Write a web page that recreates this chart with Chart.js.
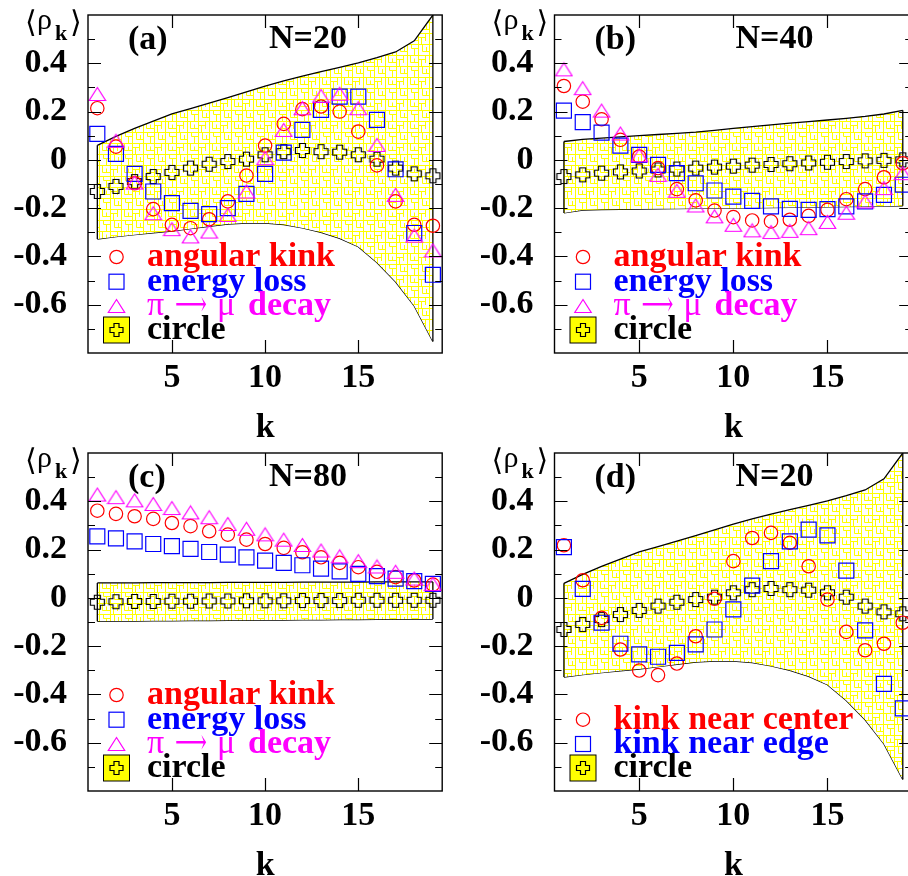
<!DOCTYPE html>
<html>
<head>
<meta charset="utf-8">
<script src="https://cdn.jsdelivr.net/npm/chart.js@4.4.1/dist/chart.umd.min.js"></script>
<style>
  html, body { margin: 0; padding: 0; overflow: hidden; background: #fff; }
  canvas { position: absolute; }
</style>
</head>
<body>
<canvas id="panelA" width="454" height="438" style="left:0;top:0"></canvas>
<canvas id="panelB" width="470" height="438" style="left:454px;top:0"></canvas>
<canvas id="panelC" width="454" height="438" style="left:0;top:438px"></canvas>
<canvas id="panelD" width="470" height="438" style="left:454px;top:438px"></canvas>
<script>
const kValues = [1, 2, 3, 4, 5, 6, 7, 8, 9, 10, 11, 12, 13, 14, 15, 16, 17, 18, 19];
const xTicks = [5, 10, 15];
const yTicks = [0.4, 0.2, 0, -0.2, -0.4, -0.6];
const yTickLabels = ['0.4', '0.2', '0', '-0.2', '-0.4', '-0.6'];
const yTickMarks = [0.5, 0.4, 0.3, 0.2, 0.1, 0, -0.1, -0.2, -0.3, -0.4, -0.5, -0.6, -0.7];

// N = 20
const angularKinkN20 = [0.214, 0.055, -0.097, -0.204, -0.269, -0.283, -0.246, -0.172, -0.065, 0.059, 0.149, 0.21, 0.221, 0.2, 0.117, -0.023, -0.172, -0.269, -0.273];
const energyLossN20 = [0.108, 0.025, -0.058, -0.131, -0.179, -0.211, -0.225, -0.2, -0.141, -0.058, 0.03, 0.124, 0.207, 0.262, 0.262, 0.166, -0.039, -0.303, -0.476];
const piMuDecayN20 = [0.273, 0.079, -0.094, -0.221, -0.287, -0.317, -0.297, -0.228, -0.131, 0.007, 0.124, 0.214, 0.265, 0.274, 0.214, 0.062, -0.145, -0.314, -0.375];
const circleN20 = [-0.131, -0.11, -0.09, -0.069, -0.052, -0.034, -0.018, -0.007, 0.003, 0.021, 0.034, 0.039, 0.034, 0.032, 0.021, 0.003, -0.034, -0.058, -0.066];
const bandUpperN20 = [0.06, 0.097, 0.13, 0.16, 0.19, 0.212, 0.235, 0.258, 0.282, 0.305, 0.327, 0.347, 0.365, 0.383, 0.402, 0.423, 0.447, 0.493, 0.6];
const bandLowerN20 = [-0.328, -0.318, -0.31, -0.302, -0.295, -0.285, -0.275, -0.266, -0.262, -0.262, -0.268, -0.282, -0.3, -0.325, -0.36, -0.425, -0.505, -0.605, -0.752];
const kinkCenterN20 = [0.218, 0.073, -0.083, -0.214, -0.301, -0.32, -0.272, -0.159, -0.004, 0.152, 0.248, 0.269, 0.228, 0.131, -0.007, -0.141, -0.217, -0.19, -0.103];
const kinkEdgeN20 = [0.21, 0.037, -0.103, -0.19, -0.234, -0.244, -0.228, -0.193, -0.131, -0.048, 0.051, 0.152, 0.234, 0.283, 0.259, 0.113, -0.135, -0.356, -0.458];

// N = 40
const angularKinkN40 = [0.306, 0.241, 0.168, 0.083, 0.014, -0.034, -0.121, -0.168, -0.21, -0.237, -0.251, -0.255, -0.248, -0.232, -0.207, -0.163, -0.121, -0.072, -0.014];
const energyLossN40 = [0.204, 0.156, 0.113, 0.059, 0.021, -0.021, -0.055, -0.097, -0.127, -0.152, -0.17, -0.193, -0.203, -0.207, -0.204, -0.193, -0.172, -0.145, -0.103];
const piMuDecayN40 = [0.375, 0.297, 0.204, 0.109, 0.019, -0.062, -0.128, -0.189, -0.234, -0.269, -0.292, -0.299, -0.294, -0.283, -0.257, -0.219, -0.172, -0.117, -0.055];
const circleN40 = [-0.069, -0.062, -0.055, -0.05, -0.046, -0.042, -0.038, -0.034, -0.03, -0.026, -0.022, -0.019, -0.016, -0.013, -0.01, -0.007, -0.004, -0.002, 0.0];
const bandUpperN40 = [0.076, 0.085, 0.09, 0.095, 0.1, 0.105, 0.11, 0.115, 0.122, 0.13, 0.138, 0.145, 0.152, 0.158, 0.165, 0.172, 0.18, 0.19, 0.205];
const bandLowerN40 = [-0.22, -0.208, -0.206, -0.205, -0.204, -0.203, -0.202, -0.201, -0.2, -0.2, -0.199, -0.198, -0.197, -0.196, -0.195, -0.194, -0.193, -0.192, -0.19];

// N = 80
const angularKinkN80 = [0.361, 0.348, 0.338, 0.327, 0.31, 0.297, 0.276, 0.262, 0.241, 0.223, 0.207, 0.189, 0.168, 0.145, 0.127, 0.108, 0.086, 0.072, 0.055];
const energyLossN80 = [0.255, 0.246, 0.234, 0.223, 0.214, 0.203, 0.19, 0.179, 0.168, 0.154, 0.145, 0.135, 0.121, 0.11, 0.099, 0.09, 0.08, 0.069, 0.058];
const piMuDecayN80 = [0.428, 0.417, 0.404, 0.389, 0.372, 0.354, 0.334, 0.306, 0.286, 0.263, 0.241, 0.219, 0.196, 0.172, 0.152, 0.13, 0.108, 0.08, 0.057];
const circleN80 = [-0.018, -0.016, -0.015, -0.015, -0.014, -0.014, -0.013, -0.013, -0.012, -0.012, -0.012, -0.011, -0.011, -0.011, -0.01, -0.01, -0.01, -0.01, -0.01];
const bandUpperN80 = [0.062, 0.062, 0.062, 0.063, 0.063, 0.063, 0.063, 0.064, 0.064, 0.064, 0.064, 0.065, 0.065, 0.065, 0.065, 0.066, 0.066, 0.066, 0.066];
const bandLowerN80 = [-0.097, -0.096, -0.096, -0.095, -0.095, -0.094, -0.094, -0.093, -0.093, -0.092, -0.092, -0.091, -0.091, -0.09, -0.09, -0.089, -0.089, -0.088, -0.088];

const FONT = "'Liberation Serif', 'DejaVu Serif', 'Times New Roman', serif";
const RED = '#ff0000', BLUE = '#0000ff', MAGENTA = '#ff00ff';
const PLOT_TOP = 15, PLOT_BOTTOM = 353;
const legendRows = [242, 266.7, 291, 315];

function xy(values) {
  return values.map((v, i) => ({ x: kValues[i], y: v }));
}

// small hollow plus used for the circle reference
function plusPath(g, cx, cy, half, arm) {
  g.beginPath();
  g.moveTo(cx - arm, cy - half); g.lineTo(cx + arm, cy - half);
  g.lineTo(cx + arm, cy - arm); g.lineTo(cx + half, cy - arm);
  g.lineTo(cx + half, cy + arm); g.lineTo(cx + arm, cy + arm);
  g.lineTo(cx + arm, cy + half); g.lineTo(cx - arm, cy + half);
  g.lineTo(cx - arm, cy + arm); g.lineTo(cx - half, cy + arm);
  g.lineTo(cx - half, cy - arm); g.lineTo(cx - arm, cy - arm);
  g.closePath();
}

function plusMarker() {
  const c = document.createElement('canvas');
  c.width = 17; c.height = 17;
  const g = c.getContext('2d');
  plusPath(g, 8.5, 8.5, 7, 3);
  g.strokeStyle = '#000';
  g.lineWidth = 1.2;
  g.stroke();
  return c;
}

function triangleMarker(color) {
  const c = document.createElement('canvas');
  c.width = 19; c.height = 16;
  const g = c.getContext('2d');
  g.beginPath();
  g.moveTo(9.5, 1.5); g.lineTo(17.7, 14.5); g.lineTo(1.3, 14.5);
  g.closePath();
  g.strokeStyle = color;
  g.lineWidth = 1.2;
  g.stroke();
  return c;
}

// yellow maze-like hatch for the band
function hatchTile() {
  const t = document.createElement('canvas');
  t.width = 22; t.height = 22;
  const g = t.getContext('2d');
  g.fillStyle = '#fff';
  g.fillRect(0, 0, 22, 22);
  g.strokeStyle = '#ffff00';
  g.lineWidth = 1;
  const segs = [
    [0, 0.5, 22, 0.5], [0.5, 0, 0.5, 22],
    [0, 11.5, 22, 11.5], [11.5, 0, 11.5, 22],
    [4.5, 0, 4.5, 7.5], [4.5, 7.5, 11, 7.5], [8.5, 3, 8.5, 7.5],
    [15.5, 0, 15.5, 4.5], [15.5, 4.5, 22, 4.5], [18.5, 4.5, 18.5, 11],
    [0, 15.5, 7, 15.5], [3.5, 15.5, 3.5, 22], [7.5, 12, 7.5, 19],
    [14.5, 11, 14.5, 18.5], [14.5, 18.5, 22, 18.5], [18.5, 14.5, 18.5, 18.5]
  ];
  g.beginPath();
  segs.forEach(([x1, y1, x2, y2]) => { g.moveTo(x1, y1); g.lineTo(x2, y2); });
  g.stroke();
  return t;
}

function drawLegendMarker(ctx, kind, x, y, color) {
  ctx.save();
  ctx.strokeStyle = color;
  ctx.lineWidth = 1.2;
  if (kind === 'circle') {
    ctx.beginPath(); ctx.arc(x, y, 6.7, 0, Math.PI * 2); ctx.stroke();
  } else if (kind === 'square') {
    ctx.strokeRect(x - 7.5, y - 7.5, 15, 15);
  } else if (kind === 'triangle') {
    ctx.beginPath();
    ctx.moveTo(x, y - 6.5); ctx.lineTo(x + 8.2, y + 6.5); ctx.lineTo(x - 8.2, y + 6.5);
    ctx.closePath(); ctx.stroke();
  } else if (kind === 'box') {
    ctx.fillStyle = '#ffff00';
    ctx.fillRect(x - 13, y - 13, 26, 26);
    ctx.strokeStyle = '#000';
    ctx.lineWidth = 1;
    ctx.strokeRect(x - 13, y - 13, 26, 26);
    plusPath(ctx, x, y, 6.5, 2.5);
    ctx.lineWidth = 1.2;
    ctx.stroke();
  }
  ctx.restore();
}

// text piece squeezed or stretched to a given width when one is set
function fillPiece(ctx, text, x, y, width) {
  if (!width) { ctx.fillText(text, x, y); return; }
  const w = ctx.measureText(text).width;
  ctx.save();
  ctx.translate(x, y);
  ctx.scale(width / w, 1);
  ctx.fillText(text, 0, 0);
  ctx.restore();
}

const panelDecor = {
  id: 'panelDecor',
  afterDatasetsDraw(chart, args, o) {
    const { ctx, chartArea: a, scales: { x, y } } = chart;
    ctx.save();
    ctx.strokeStyle = '#000';
    ctx.lineWidth = 1.4;
    ctx.strokeRect(a.left, a.top, a.right - a.left, a.bottom - a.top);

    // inward tick marks on all four sides
    ctx.lineWidth = 1.2;
    ctx.beginPath();
    yTickMarks.forEach(v => {
      const py = Math.round(y.getPixelForValue(v)) + 0.5;
      const len = yTicks.includes(v) ? 13 : 7;
      ctx.moveTo(a.left, py); ctx.lineTo(a.left + len, py);
      ctx.moveTo(a.right, py); ctx.lineTo(a.right - len, py);
    });
    xTicks.forEach(v => {
      const px = Math.round(x.getPixelForValue(v)) + 0.5;
      ctx.moveTo(px, a.top); ctx.lineTo(px, a.top + 13);
      ctx.moveTo(px, a.bottom); ctx.lineTo(px, a.bottom - 13);
    });
    ctx.stroke();

    ctx.fillStyle = '#000';
    ctx.textBaseline = 'alphabetic';

    // axis titles: <rho_k> at the top left, k under the axis
    ctx.textAlign = 'left';
    ctx.font = `30px ${FONT}`;
    ctx.fillText('\u27E8', a.left - 63, a.top + 17);
    ctx.fillText('\u03C1', a.left - 51, a.top + 14);
    ctx.fillText('\u27E9', a.left - 18, a.top + 17);
    ctx.font = `bold 22px ${FONT}`;
    ctx.fillText('k', a.left - 33, a.top + 25);
    ctx.textAlign = 'center';
    ctx.font = `bold 34px ${FONT}`;
    ctx.fillText('k', x.getPixelForValue(10), a.bottom + 84);

    // panel tag and system size
    ctx.textAlign = 'left';
    ctx.fillText(o.tag, a.left + 40, a.top + 34);
    ctx.textAlign = 'center';
    ctx.fillText(o.size, a.left + 220, a.top + 33);

    // legend
    ctx.textAlign = 'left';
    o.legend.forEach(item => {
      const cy = a.top + legendRows[item.row];
      drawLegendMarker(ctx, item.marker, a.left + 28.5, cy, item.color);
      ctx.fillStyle = item.color;
      item.parts.forEach(([text, weight, dx, width]) => {
        ctx.font = `${weight} 34px ${FONT}`;
        fillPiece(ctx, text, a.left + 59 + dx, cy + 9, width);
      });
    });
    ctx.restore();
  }
};

function decayParts() {
  return [['\u03C0', 'normal', 0], ['\u27F6', 'normal', 28, 32], ['\u03BC', 'normal', 70], ['decay', 'bold', 101]];
}

function makePanel(id, cfg) {
  const canvas = document.getElementById(id);
  const W = canvas.width, H = canvas.height;
  const pattern = canvas.getContext('2d').createPattern(hatchTile(), 'repeat');
  const cross = plusMarker();
  const tri = triangleMarker(MAGENTA);

  const datasets = [];
  cfg.series.forEach(s => {
    const ds = {
      data: xy(s.values), showLine: false, borderColor: s.color, backgroundColor: 'rgba(0,0,0,0)',
      borderWidth: 1.2, pointBorderWidth: 1.2, order: s.order
    };
    if (s.marker === 'circle') { ds.pointStyle = 'circle'; ds.pointRadius = 6.7; }
    if (s.marker === 'square') { ds.pointStyle = 'rect'; ds.pointRadius = 10.6; }
    if (s.marker === 'triangle') { ds.pointStyle = tri; ds.pointRadius = 8; }
    datasets.push(ds);
  });
  datasets.push({
    data: xy(cfg.circle), showLine: false, pointStyle: cross, pointRadius: 8, order: 6
  });
  // band outline: upper edge (filled to the lower edge), lower edge, end caps
  datasets.push({
    data: xy(cfg.upper), borderColor: '#000', borderWidth: 1.3, pointRadius: 0,
    fill: '+1', backgroundColor: pattern, tension: 0, order: 9
  });
  datasets.push({
    data: xy(cfg.lower), borderColor: '#000', borderWidth: 1.3, pointRadius: 0,
    fill: false, tension: 0, order: 9
  });
  const last = kValues.length - 1;
  datasets.push({
    data: [{ x: kValues[0], y: cfg.lower[0] }, { x: kValues[0], y: cfg.upper[0] }],
    borderColor: '#000', borderWidth: 1.3, pointRadius: 0, fill: false, order: 8
  });
  datasets.push({
    data: [{ x: kValues[last], y: cfg.lower[last] }, { x: kValues[last], y: cfg.upper[last] }],
    borderColor: '#000', borderWidth: 1.3, pointRadius: 0, fill: false, order: 8
  });

  const tickFont = { family: FONT, size: 34, weight: 'bold' };

  return new Chart(canvas, {
    type: 'line',
    data: { datasets },
    options: {
      responsive: false,
      animation: false,
      devicePixelRatio: 1,
      layout: { padding: { left: 0, top: PLOT_TOP, right: W - cfg.right, bottom: 0 } },
      plugins: {
        legend: { display: false },
        tooltip: { enabled: false },
        panelDecor: { tag: cfg.tag, size: cfg.size, legend: cfg.legend }
      },
      scales: {
        x: {
          type: 'linear', min: 0.5, max: 19.5,
          grid: { display: false, drawTicks: false },
          border: { display: false },
          afterBuildTicks: s => { s.ticks = xTicks.map(v => ({ value: v })); },
          afterFit: s => { s.height = H - PLOT_BOTTOM; s.paddingLeft = 0; s.paddingRight = 0; },
          ticks: { font: tickFont, color: '#000', padding: 5, autoSkip: false, maxRotation: 0 }
        },
        y: {
          type: 'linear', min: -0.8, max: 0.6,
          grid: { display: false, drawTicks: false },
          border: { display: false },
          afterBuildTicks: s => { s.ticks = yTicks.map(v => ({ value: v })); },
          afterFit: s => { s.width = cfg.left; s.paddingTop = 0; s.paddingBottom = 0; },
          ticks: {
            font: tickFont, color: '#000', padding: 21, autoSkip: false,
            callback: v => yTickLabels[yTicks.indexOf(v)]
          }
        }
      }
    },
    plugins: [panelDecor]
  });
}

const threeSources = (kink, eloss, decay) => [
  { values: decay, marker: 'triangle', color: MAGENTA, order: 2 },
  { values: eloss, marker: 'square', color: BLUE, order: 3 },
  { values: kink, marker: 'circle', color: RED, order: 4 }
];
const threeLegend = [
  { row: 0, marker: 'circle', color: RED, parts: [['angular kink', 'bold', 0]] },
  { row: 1, marker: 'square', color: BLUE, parts: [['energy loss', 'bold', 0]] },
  { row: 2, marker: 'triangle', color: MAGENTA, parts: decayParts() },
  { row: 3, marker: 'box', color: '#000', parts: [['circle', 'bold', 0]] }
];

makePanel('panelA', {
  left: 88, right: 449, tag: '(a)', size: 'N=20',
  series: threeSources(angularKinkN20, energyLossN20, piMuDecayN20),
  circle: circleN20, upper: bandUpperN20, lower: bandLowerN20, legend: threeLegend
});
makePanel('panelB', {
  left: 100.5, right: 461, tag: '(b)', size: 'N=40',
  series: threeSources(angularKinkN40, energyLossN40, piMuDecayN40),
  circle: circleN40, upper: bandUpperN40, lower: bandLowerN40, legend: threeLegend
});
makePanel('panelC', {
  left: 88, right: 449, tag: '(c)', size: 'N=80',
  series: threeSources(angularKinkN80, energyLossN80, piMuDecayN80),
  circle: circleN80, upper: bandUpperN80, lower: bandLowerN80, legend: threeLegend
});
makePanel('panelD', {
  left: 100.5, right: 461, tag: '(d)', size: 'N=20',
  series: [
    { values: kinkEdgeN20, marker: 'square', color: BLUE, order: 3 },
    { values: kinkCenterN20, marker: 'circle', color: RED, order: 4 }
  ],
  circle: circleN20, upper: bandUpperN20, lower: bandLowerN20,
  legend: [
    { row: 1, marker: 'circle', color: RED, parts: [['kink near center', 'bold', 0]] },
    { row: 2, marker: 'square', color: BLUE, parts: [['kink near edge', 'bold', 0]] },
    { row: 3, marker: 'box', color: '#000', parts: [['circle', 'bold', 0]] }
  ]
});
</script>
</body>
</html>
